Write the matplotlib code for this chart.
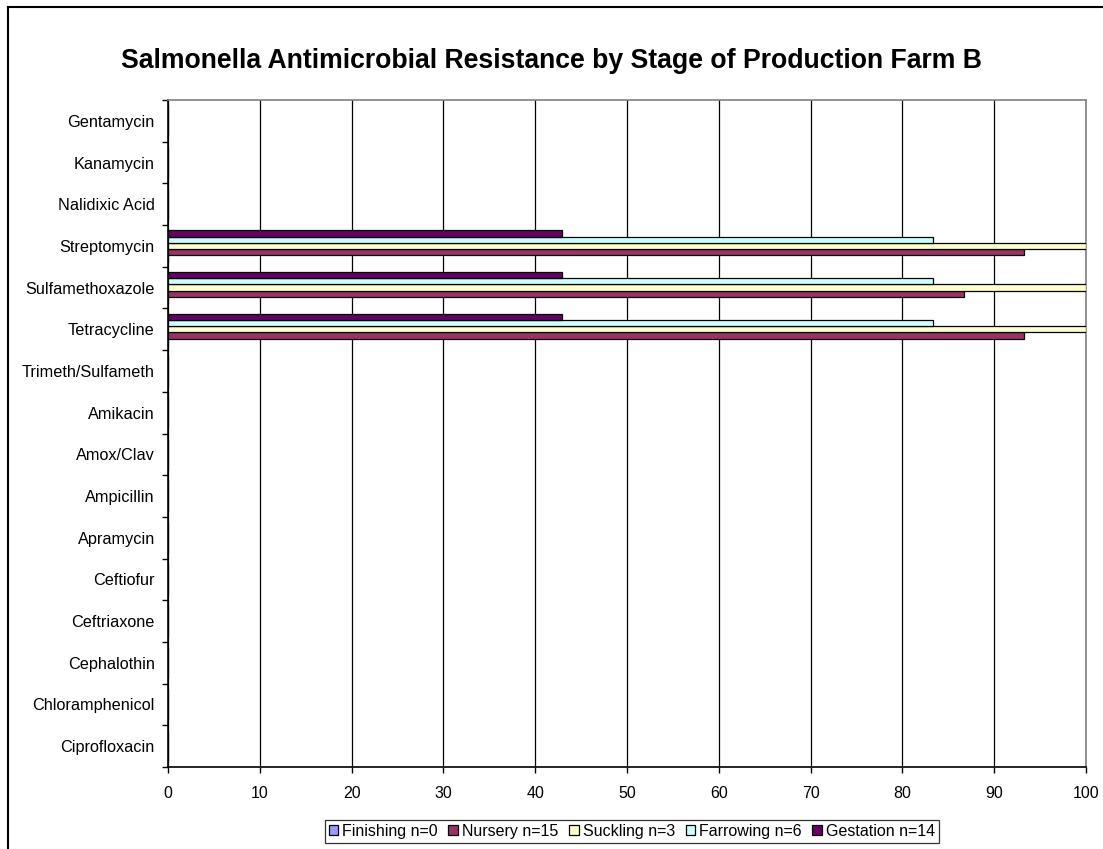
import matplotlib
matplotlib.use('Agg')
import numpy as np
import matplotlib.pyplot as plt
from matplotlib.lines import Line2D

plt.rcParams['font.family'] = ['Liberation Sans', 'DejaVu Sans']

# antimicrobials, top to bottom
drugs = ["Gentamycin", "Kanamycin", "Nalidixic Acid", "Streptomycin",
         "Sulfamethoxazole", "Tetracycline", "Trimeth/Sulfameth", "Amikacin",
         "Amox/Clav", "Ampicillin", "Apramycin", "Ceftiofur", "Ceftriaxone",
         "Cephalothin", "Chloramphenicol", "Ciprofloxacin"]

# percent resistant per stage (same order as drugs)
finishing = [0, 0, 0, 0, 0, 0, 0, 0, 0, 0, 0, 0, 0, 0, 0, 0]
nursery   = [0, 0, 0, 93.3, 86.7, 93.3, 0, 0, 0, 0, 0, 0, 0, 0, 0, 0]
suckling  = [0, 0, 0, 100, 100, 100, 0, 0, 0, 0, 0, 0, 0, 0, 0, 0]
farrowing = [0, 0, 0, 83.3, 83.3, 83.3, 0, 0, 0, 0, 0, 0, 0, 0, 0, 0]
gestation = [0, 0, 0, 42.9, 42.9, 42.9, 0, 0, 0, 0, 0, 0, 0, 0, 0, 0]

labels = ["Finishing n=0", "Nursery n=15", "Suckling n=3",
          "Farrowing n=6", "Gestation n=14"]
series = [finishing, nursery, suckling, farrowing, gestation]
colors = ['#9999FF', '#993366', '#FFFFCC', '#CCFFFF', '#660066']

fig = plt.figure(figsize=(11.03, 8.49), dpi=100)
ax = fig.add_axes([168/1103, 82/849, (1086-168)/1103, (767-100)/849])

pos = np.arange(len(drugs))
bh = 0.15
for k, (vals, c, lab) in enumerate(zip(series, colors, labels)):
    # first series sits at the bottom of each group
    off = (2 - k) * bh
    ax.barh(pos + off, vals, height=bh, color=c, edgecolor='black',
            linewidth=0.9, label=lab, zorder=3)

ax.set_xlim(0, 100)
ax.set_ylim(len(drugs) - 0.5, -0.5)
ax.set_xticks(np.arange(0, 101, 10))
ax.tick_params(axis='x', direction='out', length=4, width=1, labelsize=11.5, pad=10)

# group boundary ticks, labels at group centres
ax.set_yticks(np.arange(len(drugs) + 1) - 0.5)
ax.set_yticklabels([])
ax.tick_params(axis='y', which='major', direction='out', length=4.5, width=1)
ax.set_yticks(pos, minor=True)
ax.set_yticklabels(drugs, minor=True)
ax.tick_params(axis='y', which='minor', length=0, labelsize=11.7, pad=9.5)

ax.grid(True, axis='x', color='black', linewidth=0.9, zorder=0)
ax.grid(False, axis='y')
ax.spines['left'].set_color('black')
ax.spines['bottom'].set_color('black')
ax.spines['top'].set_color('#808080')
ax.spines['right'].set_color('#808080')
for sp in ax.spines.values():
    sp.set_linewidth(1.2)

fig.text(0.5, 1 - 61/849, "Salmonella Antimicrobial Resistance by Stage of Production Farm B",
         ha='center', va='center', fontsize=19.2, fontweight='bold')

leg = fig.legend(loc='center', bbox_to_anchor=(632/1103, 1 - 831.5/849), ncol=5,
                 fontsize=11.5, frameon=True, fancybox=False,
                 edgecolor='black', handlelength=0.62, handleheight=0.58,
                 handletextpad=0.25, columnspacing=0.65, borderpad=0.25, borderaxespad=0)
leg.get_frame().set_linewidth(0.9)

# outer chart border (top and left edges)
fig.add_artist(Line2D([8/1103, 1.0], [1 - 7/849, 1 - 7/849], color='black', lw=1.5,
                      transform=fig.transFigure))
fig.add_artist(Line2D([8/1103, 8/1103], [0.0, 1 - 7/849], color='black', lw=1.5,
                      transform=fig.transFigure))

fig.savefig('out.png', dpi=100)
